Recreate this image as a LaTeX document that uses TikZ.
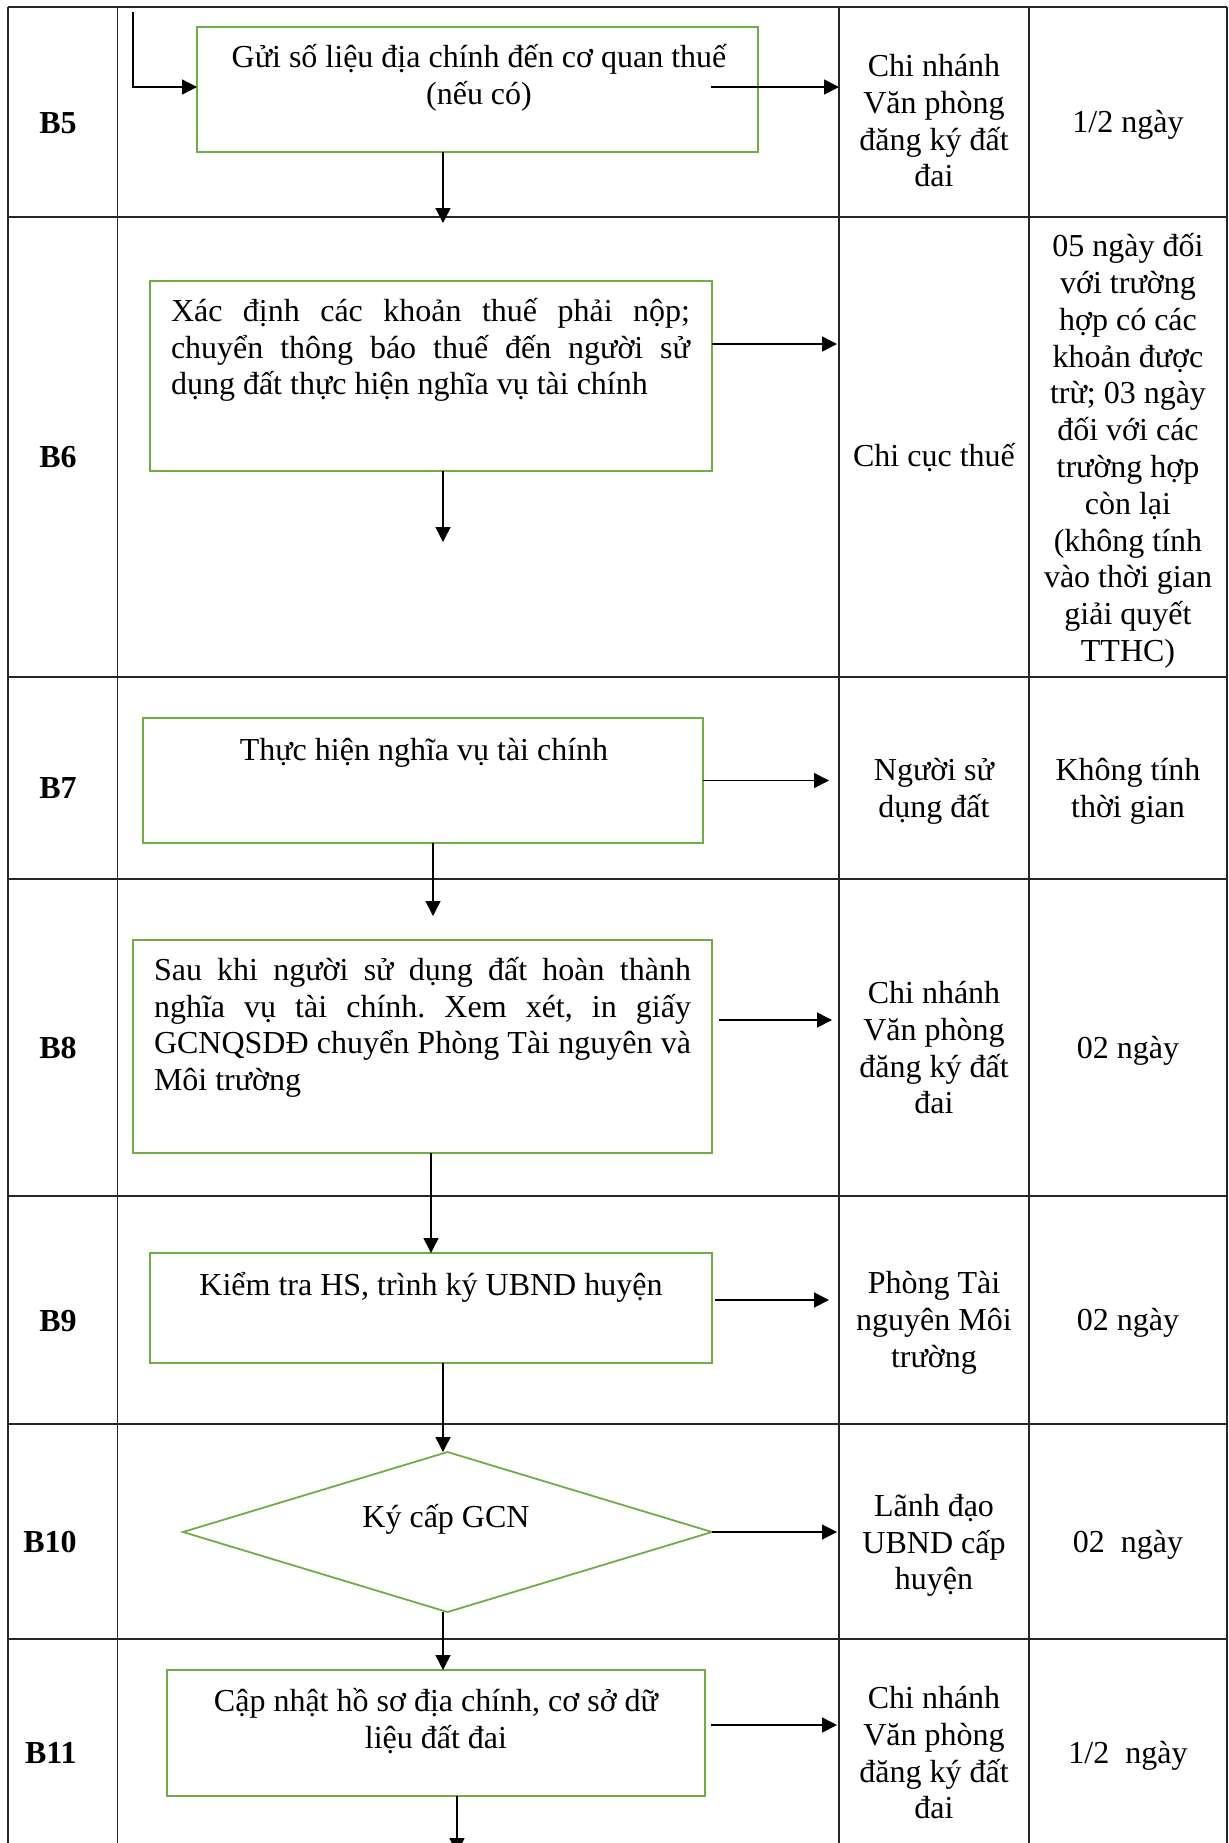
\documentclass[tikz,border=0pt]{standalone}
\usepackage{fontspec}
\setmainfont{Liberation Serif}
\usetikzlibrary{arrows.meta,shapes.geometric}
\definecolor{boxgreen}{RGB}{112,173,71}
\newcommand\jline[2]{\hbox to #1{#2}}
\begin{document}
\begin{tikzpicture}[x=0.5pt,y=-0.5pt,
  grid/.style={line width=0.6pt, draw=black!85},
  gbox/.style={draw=boxgreen, line width=0.9pt, inner sep=0pt, outer sep=0pt},
  txt/.style={font=\fontsize{16pt}{18.4pt}\selectfont, inner sep=0pt, align=center,
    execute at begin node=\strut, execute at end node=\strut},
  lab/.style={font=\fontsize{16pt}{18.4pt}\selectfont\bfseries, inner sep=0pt, anchor=east},
  tip/.style={-{Triangle[length=7.5pt,width=7.5pt]}},
  thickarr/.style={tip, line width=0.85pt},
  thinarr/.style={tip, line width=0.7pt},
  fine/.style={tip, line width=0.55pt},
]
\useasboundingbox (0,0) rectangle (1229,1843);
% table
\foreach \yy in {7,217,677,879,1196,1424,1639}
  \draw[grid] (8,\yy) -- (1227,\yy);
\foreach \xx in {8,117.5,839,1029,1227}
  \draw[grid] (\xx,7) -- (\xx,1843);

% row labels
\node[lab] (l5) at (77,123) {B5};
\node[lab] (l6) at (77,457) {B6};
\node[lab] (l7) at (77,788) {B7};
\node[lab] (l8) at (77,1048) {B8};
\node[lab] (l9) at (77,1321) {B9};
\node[lab] (l10) at (77,1542) {B10};
\node[lab] (l11) at (77,1753) {B11};

% column 3
\node[txt] (c5) at (934,126) {Chi nhánh\\Văn phòng\\đăng ký đất\\đai};
\node[txt] (c6) at (934,459) {Chi cục thuế};
\node[txt] (c7) at (934,793) {Người sử\\dụng đất};
\node[txt] (c8) at (934,1053) {Chi nhánh\\Văn phòng\\đăng ký đất\\đai};
\node[txt] (c9) at (934,1325) {Phòng Tài\\nguyên Môi\\trường};
\node[txt] (c10) at (934,1547.5) {Lãnh đạo\\UBND cấp\\huyện};
\node[txt] (c11) at (934,1758) {Chi nhánh\\Văn phòng\\đăng ký đất\\đai};

% column 4
\node[txt] (t5) at (1128,125.5) {1/2 ngày};
\node[txt] (t6) at (1128,453) {05 ngày đối\\với trường\\hợp có các\\khoản được\\trừ; 03 ngày\\đối với các\\trường hợp\\còn lại\\(không tính\\vào thời gian\\giải quyết\\TTHC)};
\node[txt] (t7) at (1128,793) {Không tính\\thời gian};
\node[txt] (t8) at (1128,1051.5) {02 ngày};
\node[txt] (t9) at (1128,1323.5) {02 ngày};
\node[txt] (t10) at (1128,1545.5) {02\ \ ngày};
\node[txt] (t11) at (1128,1756.5) {1/2\ \ ngày};

% boxes
\node[gbox, minimum width=280.5pt, minimum height=62.5pt] (b5) at (477.5,89.5) {};
\node[gbox, minimum width=281pt, minimum height=95pt] (b6) at (431,376) {};
\node[gbox, minimum width=280pt, minimum height=62.5pt] (b7) at (423,780.5) {};
\node[gbox, minimum width=289.5pt, minimum height=106.5pt] (b8) at (422.5,1046.5) {};
\node[gbox, minimum width=281pt, minimum height=55pt] (b9) at (431,1308) {};
\node[gbox, shape=diamond, minimum width=264.5pt, minimum height=80pt] (b10) at (447.5,1532) {};
\node[gbox, minimum width=269pt, minimum height=63pt] (b11) at (436,1733) {};

% box texts
\node[txt] (x5) at (479,80) {Gửi số liệu địa chính đến cơ quan thuế\\(nếu có)};
\node[txt, align=left] (x6) at (430.5,352)
  {\jline{259.5pt}{Xác\hfill định\hfill các\hfill khoản\hfill thuế\hfill phải\hfill nộp;}\\
   \jline{259.5pt}{chuyển\hfill thông\hfill báo\hfill thuế\hfill đến\hfill người\hfill sử}\\
   \jline{259.5pt}{dụng đất thực hiện nghĩa vụ tài chính\hfill}};
\node[txt] (x7) at (424,753.5) {Thực hiện nghĩa vụ tài chính};
\node[txt, align=left] (x8) at (422.5,1029.5)
  {\jline{268.5pt}{Sau\hfill khi\hfill người\hfill sử\hfill dụng\hfill đất\hfill hoàn\hfill thành}\\
   \jline{268.5pt}{nghĩa\hfill vụ\hfill tài\hfill chính.\hfill Xem\hfill xét,\hfill in\hfill giấy}\\
   \jline{268.5pt}{GCNQSDĐ\hfill chuyển\hfill Phòng\hfill Tài\hfill nguyên\hfill và}\\
   \jline{268.5pt}{Môi trường\hfill}};
\node[txt] (x9) at (431,1288) {Kiểm tra HS, trình ký UBND huyện};
\node[txt] (x10) at (446,1520.5) {Ký cấp GCN};
\node[txt] (x11) at (436,1724) {Cập nhật hồ sơ địa chính, cơ sở dữ\\liệu đất đai};

% connector end points
\coordinate (in5) at (133,12);
\coordinate (r5s) at (711,87);
\coordinate (r5) at (839,87);
\coordinate (r6) at (837,344);
\coordinate (r7) at (829,780.5);
\coordinate (r8s) at (719,1020);
\coordinate (r8) at (832,1020);
\coordinate (r9s) at (715,1300);
\coordinate (r9) at (829,1300);
\coordinate (r10) at (837,1532);
\coordinate (r11s) at (711,1725);
\coordinate (r11) at (837,1725);
\coordinate (d5) at (443,223);
\coordinate (d6) at (443,542);
\coordinate (d7) at (433,916);
\coordinate (d9) at (443,1452);
\coordinate (d11) at (457,1853);

% connectors
\draw[thinarr] (in5) |- ([yshift=1.25pt]b5.west);
\draw[thickarr] (r5s) -- (r5);
\draw[thinarr] (b5.south -| d5) -- (d5);
\draw[thickarr] ([yshift=16pt]b6.east) -- (r6);
\draw[thinarr] (b6.south -| d6) -- (d6);
\draw[thickarr] (b7.east) -- (r7);
\draw[thinarr] (b7.south -| d7) -- (d7);
\draw[thickarr] (r8s) -- (r8);
\draw[thinarr] (b8.south -| b9.north) -- (b9.north);
\draw[thickarr] (r9s) -- (r9);
\draw[thinarr] (b9.south -| d9) -- (d9);
\draw[fine] (b10.east) -- (r10);
\draw[thinarr] (b10.south -| d9) -- (b11.north -| d9);
\draw[thickarr] (r11s) -- (r11);
\draw[thinarr] (b11.south -| d11) -- (d11);
\end{tikzpicture}
\end{document}
